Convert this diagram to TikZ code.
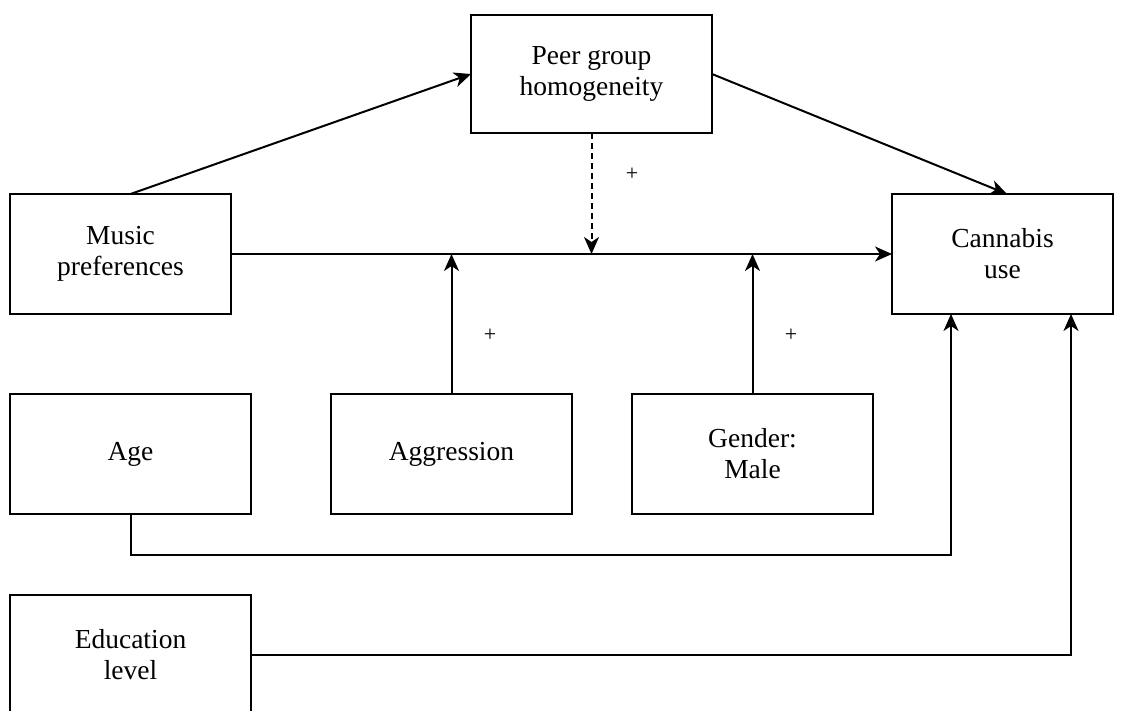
\documentclass[tikz,border=0pt]{standalone}
\usepackage{fontspec}
\setmainfont{Liberation Serif}
\usetikzlibrary{arrows.meta,calc}
\begin{document}
\begin{tikzpicture}[x=1pt,y=-1pt,
  box/.style={draw,line width=1.8pt,inner sep=0pt,outer sep=0pt,align=center,
    font=\fontsize{27.5}{31}\selectfont},
  conn/.style={line width=2pt},
  arr/.style={conn,-{Stealth[length=17pt,width=15pt,inset=5pt]}},
  plus/.style={font=\fontsize{22}{24}\selectfont,inner sep=0pt}]
\useasboundingbox (0,0) rectangle (1123,710);
\clip (0,0) rectangle (1123,710);
\node[box,minimum width=241pt,minimum height=118pt] (peer) at (591.5,74) {Peer group\\homogeneity};
\node[box,minimum width=221pt,minimum height=120pt] (music) at (120.5,254) {Music\\preferences};
\node[box,minimum width=221pt,minimum height=120pt] (cannabis) at (1002.5,254) {Cannabis\\use};
\node[box,minimum width=241pt,minimum height=120pt] (age) at (130.5,454) {Age};
\node[box,minimum width=241pt,minimum height=120pt] (aggr) at (451.5,454) {Aggression};
\node[box,minimum width=241pt,minimum height=120pt] (gender) at (752.5,454) {Gender:\\Male};
\node[box,minimum width=241pt,minimum height=120pt] (edu) at (130.5,655) {Education\\level};

\coordinate (m) at (peer.south |- music.east);
\coordinate (c1) at ($(cannabis.south west)+(59,0)$);
\coordinate (c2) at ($(cannabis.south west)+(179,0)$);
\coordinate (ctop) at ($(cannabis.north)+(4.5,0)$);

\draw[arr] (music.east) -- (cannabis.west);
\draw[arr] (music.north -| age.south) -- (peer.west);
\draw[arr] (peer.east) -- (ctop);
\draw[arr,dash pattern=on 6pt off 4pt] (peer.south) -- (m);
\draw[arr] (aggr.north) -- (aggr.north |- music.east);
\draw[arr] (gender.north) -- (gender.north |- music.east);
\draw[arr] (age.south) -- ++(0,41) -| (c1);
\draw[arr] (edu.east) -| (c2);

\node[plus] (p1) at (632,174) {+};
\node[plus] (p2) at (490,335) {+};
\node[plus] (p3) at (791,335) {+};
\end{tikzpicture}
\end{document}
